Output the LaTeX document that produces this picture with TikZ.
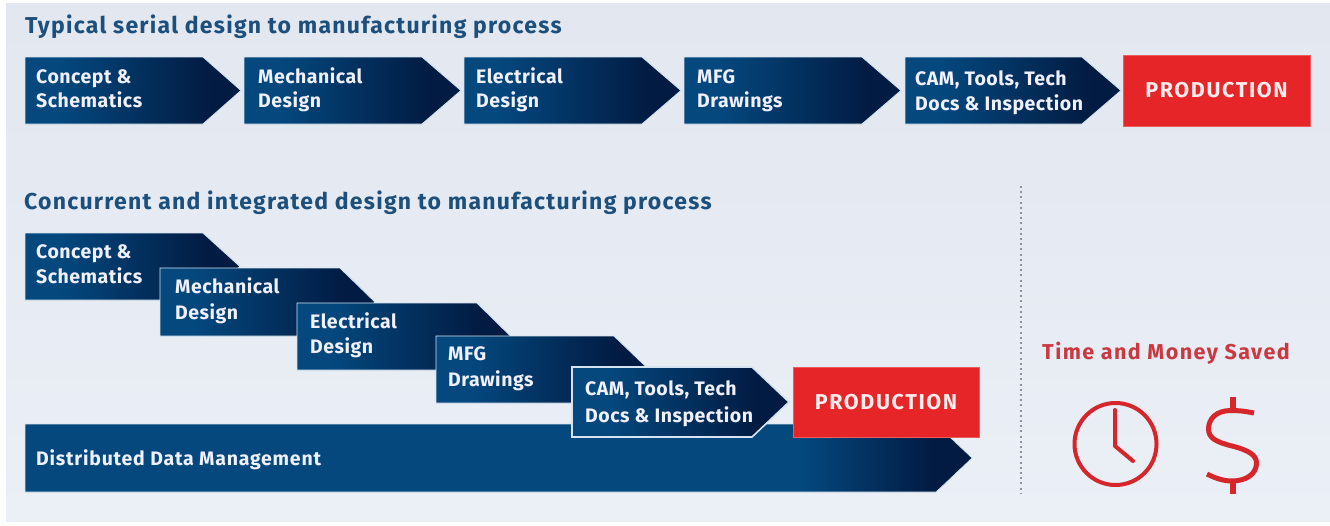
\documentclass[tikz,border=0pt]{standalone}
\usepackage{fontspec}
\setmainfont{Fira Sans}
\newfontfamily\headfam{Fira Sans}[LetterSpace=5.5]
\newfontfamily\chevfam{Fira Sans}[LetterSpace=2.6]
\newfontfamily\barfam{Fira Sans}[LetterSpace=4.0]
\newfontfamily\prodfam{Fira Sans}[LetterSpace=7.4]
\newfontfamily\savefam{Fira Sans}[LetterSpace=6.8]
\definecolor{bgtop}{HTML}{E2E7F0}
\definecolor{bgbot}{HTML}{EBEFF6}
\definecolor{navyl}{HTML}{04487E}
\definecolor{navyd}{HTML}{021B42}
\definecolor{edgec}{HTML}{D5E4F0}
\definecolor{prodred}{HTML}{E52528}
\definecolor{titleblue}{HTML}{1D4F7C}
\definecolor{savered}{HTML}{C9393F}
\definecolor{iconred}{HTML}{D4262B}
\definecolor{dotgray}{HTML}{8C949E}
\pgfdeclarehorizontalshading{chevshade}{100bp}{color(0bp)=(navyl); color(33bp)=(navyl); color(68bp)=(navyd); color(100bp)=(navyd)}
\pgfdeclarehorizontalshading{barshade}{100bp}{color(0bp)=(navyl); color(66bp)=(navyl); color(73bp)=(navyd); color(100bp)=(navyd)}
\tikzset{
  chevshape/.style={shading=chevshade, draw=edgec, line width=0.9pt, line join=miter},
  camshape/.style={shading=chevshade, draw=edgec, line width=1.6pt, line join=miter},
  barshape/.style={shading=barshade, draw=edgec, line width=0.6pt},
  chevtext/.style={anchor=base west, inner sep=0pt, text=white!94!blue, font=\chevfam\fontsize{19.5}{23}\bfseries\selectfont},
  bartext/.style={chevtext, font=\barfam\fontsize{19.5}{23}\bfseries\selectfont},
  headtext/.style={anchor=base west, inner sep=0pt, text=titleblue, font=\headfam\fontsize{23}{27}\bfseries\selectfont},
  prodbox/.style={fill=prodred, draw=prodred!75!white, line width=0.6pt, inner sep=0pt, text=white!92!red, font=\prodfam\fontsize{21.5}{25}\bfseries\selectfont, align=center},
  savetext/.style={anchor=base west, inner sep=0pt, text=savered, font=\savefam\fontsize{21.5}{25}\bfseries\selectfont},
  iconline/.style={draw=iconred, line width=4pt},
}
% #1 x left, #2 x shoulder, #3 x tip, #4 y top, #5 y bottom
\newcommand{\chevron}[5]{\path[chevshape] (#1,#4) -- (#2,#4) -- (#3,{(#4+#5)/2}) -- (#2,#5) -- (#1,#5) -- cycle;}
\begin{document}
\begin{tikzpicture}[x=1pt,y=-1pt]
\useasboundingbox (0,0) rectangle (1330,525);
\fill[white] (0,0) rectangle (1330,525);
\shade[top color=bgtop, bottom color=bgbot] (6,3) rectangle (1330,521);

\node[headtext] (title1) at (25,33) {Typical serial design to manufacturing process};
\node[headtext] (title2) at (24,209) {Concurrent and integrated design to manufacturing process};

% serial row
\chevron{25}{203}{241}{57}{124}
\chevron{244}{422}{461}{57}{124}
\chevron{464}{642}{681}{57}{124}
\chevron{684}{862}{901}{57}{124}
\chevron{905}{1082}{1121}{57}{124}
\node[chevtext] (s1a) at (36,83) {Concept \&};
\node[chevtext] (s1b) at (36,107) {Schematics};
\node[chevtext] (s2a) at (258,83) {Mechanical};
\node[chevtext] (s2b) at (258,107) {Design};
\node[chevtext] (s3a) at (476,83) {Electrical};
\node[chevtext] (s3b) at (476,107) {Design};
\node[chevtext] (s4a) at (697,83) {MFG};
\node[chevtext] (s4b) at (697,107) {Drawings};
\node[chevtext] (s5a) at (915,85) {CAM, Tools, Tech};
\node[chevtext] (s5b) at (915,110) {Docs \& Inspection};
\node[prodbox, minimum width=187pt, minimum height=71pt] (sprod) at (1216.5,90.5) {PRODUCTION};

% concurrent cascade
\path[barshape] (25,424) -- (936,424) -- (972,458) -- (936,492) -- (25,492) -- cycle;
\node[bartext] (bar) at (36,465) {Distributed Data Management};
\chevron{25}{203}{240}{233}{300}
\chevron{160}{340}{375}{268}{336}
\chevron{297}{477}{511}{303}{370}
\chevron{436}{614}{649}{336}{403}
\path[camshape] (572,367) -- (752,367) -- (789,402) -- (752,437) -- (572,437) -- cycle;
\node[chevtext] (c1a) at (36,258) {Concept \&};
\node[chevtext] (c1b) at (36,283) {Schematics};
\node[chevtext] (c2a) at (175,293) {Mechanical};
\node[chevtext] (c2b) at (175,319) {Design};
\node[chevtext] (c3a) at (310,328) {Electrical};
\node[chevtext] (c3b) at (310,353) {Design};
\node[chevtext] (c4a) at (448,360) {MFG};
\node[chevtext] (c4b) at (448,386) {Drawings};
\node[chevtext] (c5a) at (585,395) {CAM, Tools, Tech};
\node[chevtext] (c5b) at (585,422) {Docs \& Inspection};
\node[prodbox, minimum width=186pt, minimum height=70pt] (cprod) at (886,402) {PRODUCTION};

% divider and savings
\draw[dotgray, line width=1.8pt, dash pattern=on 2pt off 3.2pt] (1021,186) -- (1021,494);
\node[savetext] (saved) at (1042,359) {Time and Money Saved};
\draw[iconline] (1115.5,444) circle (41);
\draw[iconline, line join=round, line cap=round] (1115,410) -- (1115,446) -- (1133,461);
\draw[iconline, line width=5pt, line cap=butt] (1254,413) .. controls (1244,411) and (1238,410.5) .. (1231,410.5)
  .. controls (1216,410.5) and (1208.5,419) .. (1208.5,429)
  .. controls (1208.5,438) and (1216,442) .. (1232,446)
  .. controls (1248,450) and (1256.5,455) .. (1256.5,463)
  .. controls (1256.5,474) and (1246,481) .. (1232,481)
  .. controls (1223,481) and (1215,478) .. (1207,474);
\draw[iconline, line width=6.5pt] (1233,397) -- (1233,410);
\draw[iconline, line width=6.5pt] (1233,481) -- (1233,494);
\end{tikzpicture}
\end{document}
